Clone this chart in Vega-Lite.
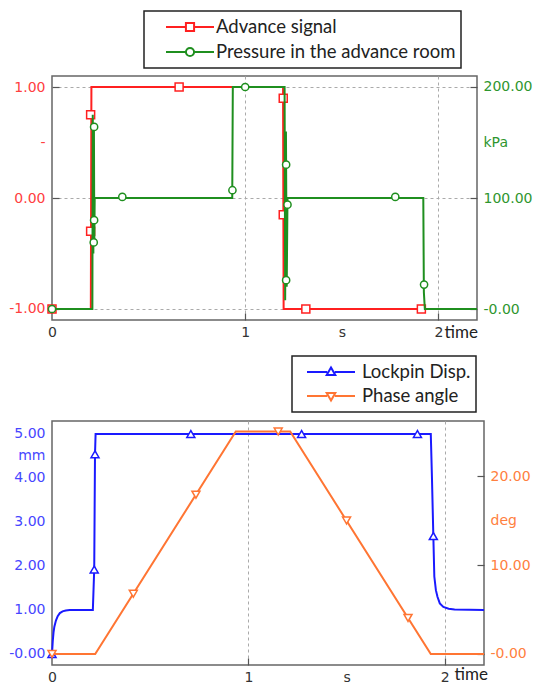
{
  "$schema": "https://vega.github.io/schema/vega-lite/v6.json",
  "background": "white",
  "padding": {"left": 8, "top": 9, "right": 0, "bottom": 0},
  "spacing": 13,
  "config": {
    "view": {"stroke": "#666", "strokeWidth": 1.5},
    "axis": {"labelFont": "DejaVu Sans", "labelFontSize": 14, "domain": false, "tickColor": "#555", "tickSize": -7, "tickWidth": 1.2, "labelPadding": 14, "title": null, "gridColor": "#aaa", "gridDash": [3, 3], "gridWidth": 1},
    "legend": {"labelFont": "Lato", "labelFontSize": 18.5, "labelColor": "#222", "labelLimit": 400, "padding": 5, "strokeColor": "#222", "symbolSize": 2304, "symbolStrokeWidth": 2, "symbolFillColor": "white", "title": null, "clipHeight": 22}
  },
  "datasets": {
    "adv_line": [{"t":0,"v":-1},{"t":0.201,"v":-1},{"t":0.204,"v":1},{"t":1.196,"v":1},{"t":1.199,"v":-1},{"t":2.2,"v":-1}],
    "adv_pts": [{"t":0,"v":-1},{"t":0.2,"v":0.75},{"t":0.2,"v":-0.3},{"t":0.658,"v":1},{"t":1.197,"v":0.9},{"t":1.197,"v":-0.15},{"t":1.314,"v":-1},{"t":1.912,"v":-1}],
    "pres_line": [{"t":0,"v":0},{"t":0.209,"v":0},{"t":0.211,"v":175},{"t":0.214,"v":50},{"t":0.217,"v":165},{"t":0.219,"v":60},{"t":0.221,"v":100},{"t":0.933,"v":100},{"t":0.936,"v":200},{"t":1.204,"v":200},{"t":1.207,"v":8},{"t":1.211,"v":160},{"t":1.215,"v":20},{"t":1.219,"v":100},{"t":1.922,"v":100},{"t":1.925,"v":15},{"t":1.93,"v":0},{"t":2.2,"v":0}],
    "pres_pts": [{"t":0,"v":0},{"t":0.218,"v":164},{"t":0.218,"v":80},{"t":0.216,"v":60},{"t":0.364,"v":101},{"t":0.934,"v":107},{"t":1.0,"v":200},{"t":1.212,"v":130},{"t":1.219,"v":94},{"t":1.212,"v":26},{"t":1.777,"v":101},{"t":1.926,"v":22}],
    "lock_line": [{"t":0,"v":0},{"t":0.004,"v":0.3},{"t":0.008,"v":0.5},{"t":0.012,"v":0.62},{"t":0.02,"v":0.76},{"t":0.029,"v":0.86},{"t":0.04,"v":0.93},{"t":0.054,"v":0.97},{"t":0.07,"v":0.99},{"t":0.09,"v":1.0},{"t":0.208,"v":1.0},{"t":0.215,"v":1.92},{"t":0.219,"v":4.54},{"t":0.222,"v":5.0},{"t":1.929,"v":5.0},{"t":1.935,"v":4.0},{"t":1.942,"v":2.68},{"t":1.947,"v":1.76},{"t":1.955,"v":1.45},{"t":1.963,"v":1.3},{"t":1.975,"v":1.15},{"t":1.993,"v":1.07},{"t":2.02,"v":1.03},{"t":2.05,"v":1.01},{"t":2.2,"v":1.0}],
    "lock_pts": [{"t":0,"v":0},{"t":0.215,"v":1.92},{"t":0.219,"v":4.54},{"t":0.707,"v":5},{"t":1.271,"v":5},{"t":1.861,"v":5},{"t":1.942,"v":2.68}],
    "phase_line": [{"t":0,"v":0},{"t":0.22,"v":0},{"t":0.936,"v":25},{"t":1.213,"v":25},{"t":1.929,"v":0},{"t":2.2,"v":0}],
    "phase_pts": [{"t":0,"v":0},{"t":0.414,"v":6.77},{"t":0.733,"v":17.9},{"t":1.152,"v":25},{"t":1.5,"v":15.0},{"t":1.813,"v":4.05}]
  },
  "resolve": {"scale": {"color": "independent"}, "legend": {"color": "independent"}},
  "vconcat": [
    {
      "width": 425, "height": 244,
      "resolve": {"scale": {"y": "independent"}},
      "layer": [
        {
          "layer": [
            {"data": {"name": "adv_line"}, "mark": {"type": "line", "strokeWidth": 2},
             "encoding": {
               "x": {"field": "t", "type": "quantitative", "scale": {"domain": [0, 2.2], "nice": false}, "axis": {"values": [0, 1, 1.5, 2], "labelFlush": false, "labelExpr": "datum.value == 1.5 ? 's' : format(datum.value, 'd')", "labelColor": "#333", "labelPadding": 12, "gridOpacity": {"condition": {"test": "datum.value == 1.5 || datum.value == 0", "value": 0}, "value": 1}, "tickOpacity": {"condition": {"test": "datum.value == 1.5 || datum.value == 0", "value": 0}, "value": 1}, "title": "time", "titleFont": "Lato", "titleFontSize": 17, "titleFontWeight": "normal", "titleColor": "#222", "titleAngle": 0, "titleAlign": "left", "titleBaseline": "middle", "titleX": 392, "titleY": 12}},
               "y": {"field": "v", "type": "quantitative", "scale": {"domain": [-1.1, 1.1], "nice": false, "zero": false}, "axis": {"orient": "left", "values": [-1, 0, 0.5, 1], "labelExpr": "datum.value == 0.5 ? '-' : (datum.value < 0 ? '-' : '') + format(abs(datum.value), '.2f')", "labelColor": "#ff4040", "gridOpacity": {"condition": {"test": "datum.value == 0.5", "value": 0}, "value": 1}, "tickOpacity": {"condition": {"test": "datum.value == 0.5", "value": 0}, "value": 1}}},
               "color": {"datum": "Advance signal", "type": "nominal", "scale": {"domain": ["Advance signal", "Pressure in the advance room"], "range": ["#ff2020", "#1f8f1f"]},
                 "legend": {"orient": "none", "legendX": 92, "legendY": -65, "symbolOffset": 16, "labelOffset": 1, "rowPadding": 3,
                   "encode": {"symbols": {"update": {"shape": {"signal": "datum.value == 'Advance signal' ? 'M-1,0H-0.17M0.17,0H1M-0.17,-0.17H0.17V0.17H-0.17Z' : 'M-1,0H-0.17M0.17,0H1M0.17,0A0.17,0.17,0,1,1,-0.17,0A0.17,0.17,0,1,1,0.17,0Z'"}, "fill": {"value": "white"}, "strokeWidth": {"value": 2}}}, "legend": {"update": {"stroke": {"value": "#222"}, "strokeWidth": {"value": 1.5}}}}}}
             }},
            {"data": {"name": "adv_pts"}, "mark": {"type": "point", "shape": "square", "filled": false, "fill": "white", "size": 64, "strokeWidth": 1.5, "opacity": 1},
             "encoding": {
               "x": {"field": "t", "type": "quantitative", "scale": {"domain": [0, 2.2], "nice": false}},
               "y": {"field": "v", "type": "quantitative"},
               "color": {"datum": "Advance signal", "type": "nominal"}
             }}
          ]
        },
        {
          "layer": [
            {"data": {"name": "pres_line"}, "mark": {"type": "line", "strokeWidth": 2},
             "encoding": {
               "x": {"field": "t", "type": "quantitative", "scale": {"domain": [0, 2.2], "nice": false}},
               "y": {"field": "v", "type": "quantitative", "scale": {"domain": [-9.9, 209.9], "nice": false, "zero": false}, "axis": {"orient": "right", "values": [0, 100, 150, 200], "labelExpr": "datum.value == 150 ? 'kPa' : datum.value == 0 ? '-0.00' : format(datum.value, '.2f')", "labelColor": "#2e962e", "labelPadding": 13, "grid": false, "tickOpacity": {"condition": {"test": "datum.value == 150", "value": 0}, "value": 1}}},
               "color": {"datum": "Pressure in the advance room", "type": "nominal"}
             }},
            {"data": {"name": "pres_pts"}, "mark": {"type": "point", "shape": "circle", "filled": false, "fill": "white", "size": 52, "strokeWidth": 1.5, "opacity": 1},
             "encoding": {
               "x": {"field": "t", "type": "quantitative", "scale": {"domain": [0, 2.2], "nice": false}},
               "y": {"field": "v", "type": "quantitative"},
               "color": {"datum": "Pressure in the advance room", "type": "nominal"}
             }}
          ]
        }
      ]
    },
    {
      "width": 432, "height": 244,
      "resolve": {"scale": {"y": "independent"}},
      "layer": [
        {
          "layer": [
            {"data": {"name": "lock_line"}, "mark": {"type": "line", "strokeWidth": 2},
             "encoding": {
               "x": {"field": "t", "type": "quantitative", "scale": {"domain": [0, 2.2], "nice": false}, "axis": {"values": [0, 1, 1.5, 2], "labelFlush": false, "labelExpr": "datum.value == 1.5 ? 's' : format(datum.value, 'd')", "labelColor": "#333", "labelPadding": 12, "gridOpacity": {"condition": {"test": "datum.value == 1.5 || datum.value == 0", "value": 0}, "value": 1}, "tickOpacity": {"condition": {"test": "datum.value == 1.5 || datum.value == 0", "value": 0}, "value": 1}, "title": "time", "titleFont": "Lato", "titleFontSize": 17, "titleFontWeight": "normal", "titleColor": "#222", "titleAngle": 0, "titleAlign": "left", "titleBaseline": "middle", "titleX": 402, "titleY": 9}},
               "y": {"field": "v", "type": "quantitative", "scale": {"domain": [-0.25, 5.295], "nice": false, "zero": false}, "axis": {"orient": "left", "values": [0, 1, 2, 3, 4, 4.5, 5], "labelExpr": "datum.value == 4.5 ? 'mm' : datum.value == 0 ? '-0.00' : format(datum.value, '.2f')", "labelColor": "#4646ff", "grid": false, "ticks": false, "labelPadding": 7}},
               "color": {"datum": "Lockpin Disp.", "type": "nominal", "scale": {"domain": ["Lockpin Disp.", "Phase angle"], "range": ["#1a1aff", "#ff7533"]},
                 "legend": {"orient": "none", "legendX": 240, "legendY": -65, "symbolOffset": 9, "labelOffset": 6, "rowPadding": 2,
                   "encode": {"symbols": {"update": {"shape": {"signal": "datum.value == 'Lockpin Disp.' ? 'M-1,0H-0.16M0.16,0H1M0,-0.19L0.18,0.13H-0.18Z' : 'M-1,0H-0.16M0.16,0H1M0,0.19L0.18,-0.13H-0.18Z'"}, "fill": {"value": "white"}, "strokeWidth": {"value": 2}}}, "legend": {"update": {"stroke": {"value": "#222"}, "strokeWidth": {"value": 1.5}}}}}}
             }},
            {"data": {"name": "lock_pts"}, "mark": {"type": "point", "shape": "triangle-up", "filled": false, "fill": "white", "size": 64, "strokeWidth": 1.5, "opacity": 1},
             "encoding": {
               "x": {"field": "t", "type": "quantitative", "scale": {"domain": [0, 2.2], "nice": false}},
               "y": {"field": "v", "type": "quantitative"},
               "color": {"datum": "Lockpin Disp.", "type": "nominal"}
             }}
          ]
        },
        {
          "layer": [
            {"data": {"name": "phase_line"}, "mark": {"type": "line", "strokeWidth": 2},
             "encoding": {
               "x": {"field": "t", "type": "quantitative", "scale": {"domain": [0, 2.2], "nice": false}},
               "y": {"field": "v", "type": "quantitative", "scale": {"domain": [-1.236, 26.18], "nice": false, "zero": false}, "axis": {"orient": "right", "values": [0, 10, 15, 20], "labelExpr": "datum.value == 15 ? 'deg' : datum.value == 0 ? '-0.00' : format(datum.value, '.2f')", "labelColor": "#ff8040", "labelPadding": 13, "gridOpacity": {"condition": {"test": "datum.value == 15", "value": 0}, "value": 1}, "tickOpacity": {"condition": {"test": "datum.value == 15", "value": 0}, "value": 1}}},
               "color": {"datum": "Phase angle", "type": "nominal"}
             }},
            {"data": {"name": "phase_pts"}, "mark": {"type": "point", "shape": "triangle-down", "filled": false, "fill": "white", "size": 64, "strokeWidth": 1.5, "opacity": 1},
             "encoding": {
               "x": {"field": "t", "type": "quantitative", "scale": {"domain": [0, 2.2], "nice": false}},
               "y": {"field": "v", "type": "quantitative"},
               "color": {"datum": "Phase angle", "type": "nominal"}
             }}
          ]
        }
      ]
    }
  ]
}
